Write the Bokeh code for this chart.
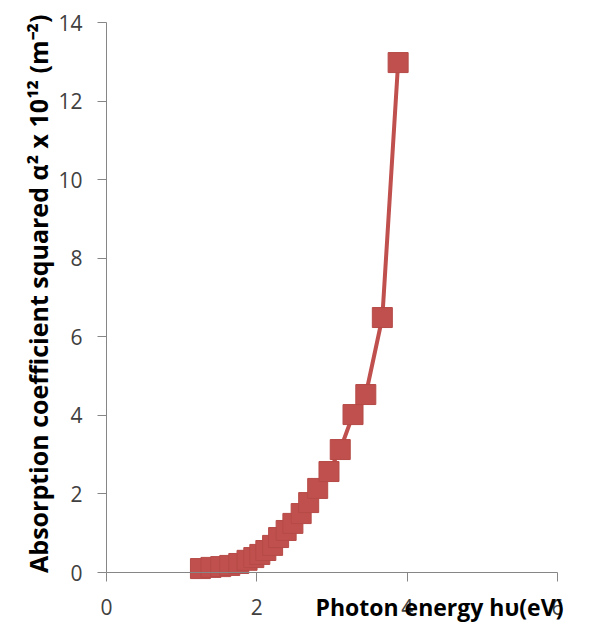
import math
from bokeh.plotting import figure
from bokeh.models import Range1d, FixedTicker, Label
from bokeh.embed import file_html
from bokeh.resources import INLINE

# Photon energy (eV) and absorption coefficient squared (x 10^12 m^-2)
energy = [1.25, 1.39, 1.52, 1.64, 1.76, 1.87, 1.96, 2.04, 2.12, 2.21, 2.29,
          2.39, 2.48, 2.59, 2.69, 2.81, 2.96, 3.11, 3.28, 3.45, 3.67, 3.88]
alpha_sq = [0.10, 0.13, 0.15, 0.18, 0.23, 0.31, 0.38, 0.46, 0.56, 0.69, 0.89,
            1.07, 1.25, 1.50, 1.78, 2.14, 2.57, 3.13, 4.02, 4.53, 6.49, 12.98]
x_ticks = [0, 2, 4, 6]
y_ticks = [0, 2, 4, 6, 8, 10, 12, 14]
x_title = "Photon energy  h\u03c5(eV)"
y_title = "Absorption coefficient squared  \u03b1\u00b2 x 10\u00b9\u00b2 (m\u207b\u00b2)"

RED = "#C0504D"
AXIS = "#868686"
FONT = "Open Sans"

# the frame fills the canvas; the axes are pinned at 0 and bounded
p = figure(width=589, height=623, output_backend="svg", toolbar_location=None,
           x_range=Range1d(-1.410, 6.426), y_range=Range1d(-1.298, 14.560),
           min_border_left=0, min_border_right=0, min_border_top=0,
           min_border_bottom=0)
p.grid.visible = False
p.outline_line_color = None
p.background_fill_color = "white"

p.line(energy, alpha_sq, line_color=RED, line_width=4)
p.scatter(energy, alpha_sq, marker="square", size=20, fill_color=RED,
          line_color="#B54A47", line_width=1)

for ax in (p.xaxis[0], p.yaxis[0]):
    ax.fixed_location = 0
    ax.axis_line_color = AXIS
    ax.major_tick_line_color = AXIS
    ax.minor_tick_line_color = None
    ax.major_tick_out = 9
    ax.major_tick_in = 0
    ax.major_label_text_font = FONT
    ax.major_label_text_font_size = "21px"
    ax.major_label_text_color = "#404040"

p.xaxis.bounds = (0, 6)
p.yaxis.bounds = (0, 14)
p.xaxis.ticker = FixedTicker(ticks=x_ticks)
p.yaxis.ticker = FixedTicker(ticks=y_ticks)
p.xaxis.major_label_standoff = 17
p.yaxis.major_label_standoff = 15

ylab = Label(x=-0.905, y=7.18, text=y_title, angle=math.pi / 2,
             text_font=FONT, text_font_style="bold",
             text_font_size="25px", text_color="black",
             text_align="center", text_baseline="alphabetic")
p.add_layout(ylab)

xlab = Label(x=2.78, y=-0.88, text=x_title,
             text_font=FONT, text_font_style="bold",
             text_font_size="23px", text_color="black",
             text_align="left", text_baseline="alphabetic")
p.add_layout(xlab)

open("out.html", "w").write(file_html(p, INLINE))
